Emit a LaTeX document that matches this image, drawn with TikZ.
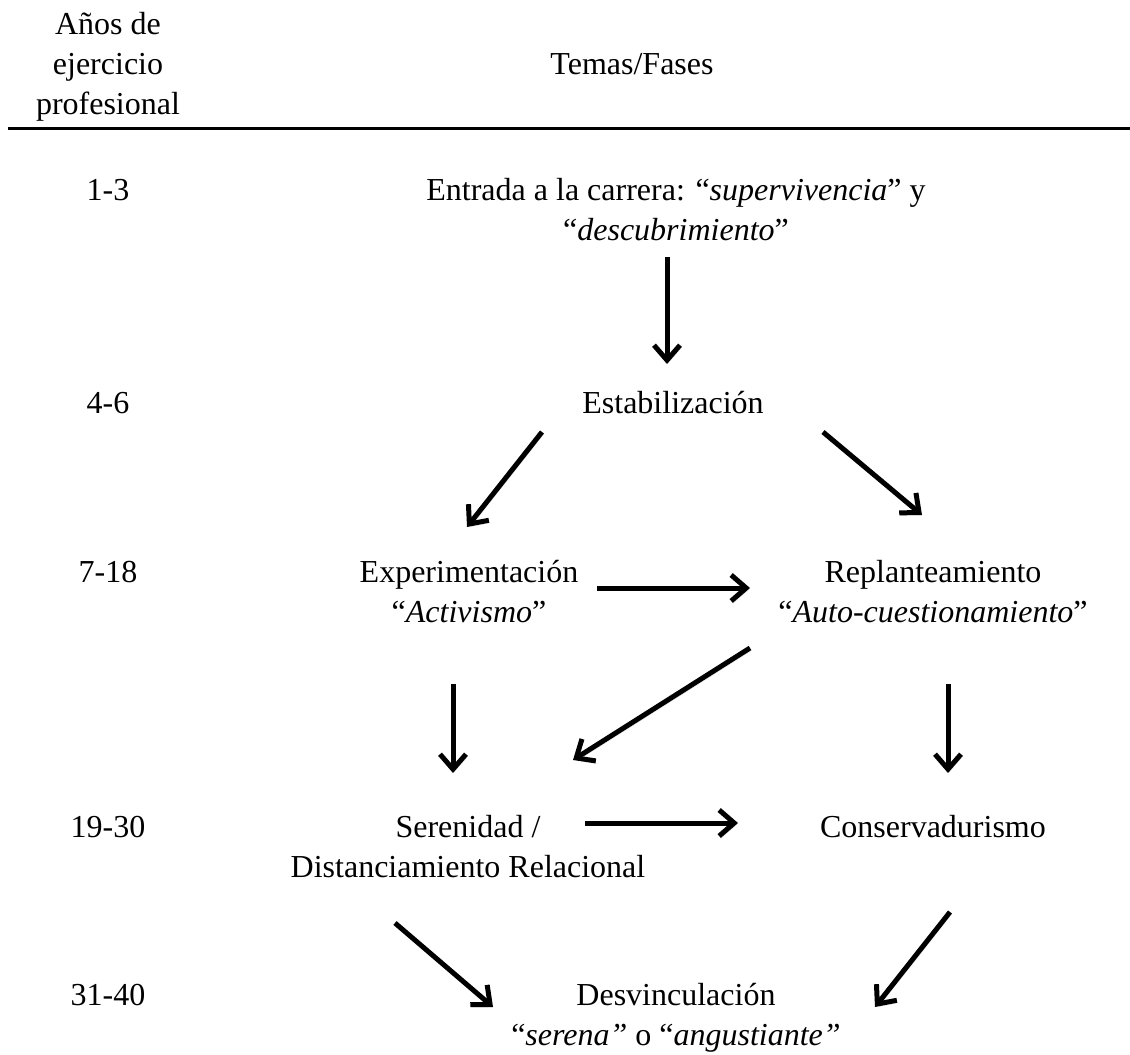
\documentclass[tikz,border=0pt]{standalone}
\usepackage{fontspec}
\setmainfont{Liberation Serif}
\usetikzlibrary{arrows.meta}
\begin{document}
\begin{tikzpicture}[x=1pt,y=-1pt,
  txt/.style={font=\fontsize{32}{40}\selectfont, inner sep=0pt, anchor=base},
  arr/.style={line width=5pt, -{Straight Barb[length=15pt,width=26pt]}, line join=round,
    preaction={draw=black, opacity=0.12, transform canvas={shift={(1.5pt,-2.5pt)}}}},
  rulestyle/.style={line width=3pt}]
\useasboundingbox (0,0) rectangle (1130,1055);
% header
\node[txt] (hyears) at (108,34) {Años de};
\node[txt] (hyears2) at (108,74) {ejercicio};
\node[txt] (hyears3) at (108,114) {profesional};
\node[txt] (hthemes) at (632,74) {Temas/Fases};
\coordinate (rl) at (8,128);
\coordinate (rr) at (1130,128);
\draw[rulestyle] (rl) -- (rr);
% rows
\node[txt] (y1) at (108,200) {1-3};
\node[txt] (n1) at (676,200) {Entrada a la carrera: “\textit{supervivencia}” y};
\node[txt] (n1b) at (676,240) {“\textit{descubrimiento}”};
\node[txt] (y2) at (108,413) {4-6};
\node[txt] (n2) at (673,413) {Estabilización};
\node[txt] (y3) at (108,582) {7-18};
\node[txt] (n3a) at (469,582) {Experimentación};
\node[txt] (n3a2) at (469,622) {“\textit{Activismo}”};
\node[txt] (n3b) at (933,582) {Replanteamiento};
\node[txt] (n3b2) at (933,622) {“\textit{Auto-cuestionamiento}”};
\node[txt] (y4) at (108,837) {19-30};
\node[txt] (n4a) at (468,837) {Serenidad /};
\node[txt] (n4a2) at (468,877) {Distanciamiento Relacional};
\node[txt] (n4b) at (933,837) {Conservadurismo};
\node[txt] (y5) at (108,1005) {31-40};
\node[txt] (n5) at (676,1005) {Desvinculación};
\node[txt] (n5b) at (676,1045) {“\textit{serena”} o “\textit{angustiante”}};
% arrow end points
\coordinate (a1s) at (667,257); \coordinate (a1e) at (667,364);
\coordinate (a2s) at (542,432); \coordinate (a2e) at (467,527);
\coordinate (a3s) at (823,432); \coordinate (a3e) at (922,515);
\coordinate (a4s) at (597,588); \coordinate (a4e) at (750,588);
\coordinate (a5s) at (750,648); \coordinate (a5e) at (573,760);
\coordinate (a6s) at (453,684); \coordinate (a6e) at (453,773);
\coordinate (a7s) at (948,684); \coordinate (a7e) at (948,773);
\coordinate (a8s) at (585,823); \coordinate (a8e) at (738,823);
\coordinate (a9s) at (395,923); \coordinate (a9e) at (493,1007);
\coordinate (a10s) at (950,912); \coordinate (a10e) at (875,1007);
\draw[arr] (a1s) -- (a1e);
\draw[arr] (a2s) -- (a2e);
\draw[arr] (a3s) -- (a3e);
\draw[arr] (a4s) -- (a4e);
\draw[arr] (a5s) -- (a5e);
\draw[arr] (a6s) -- (a6e);
\draw[arr] (a7s) -- (a7e);
\draw[arr] (a8s) -- (a8e);
\draw[arr] (a9s) -- (a9e);
\draw[arr] (a10s) -- (a10e);
\end{tikzpicture}
\end{document}
